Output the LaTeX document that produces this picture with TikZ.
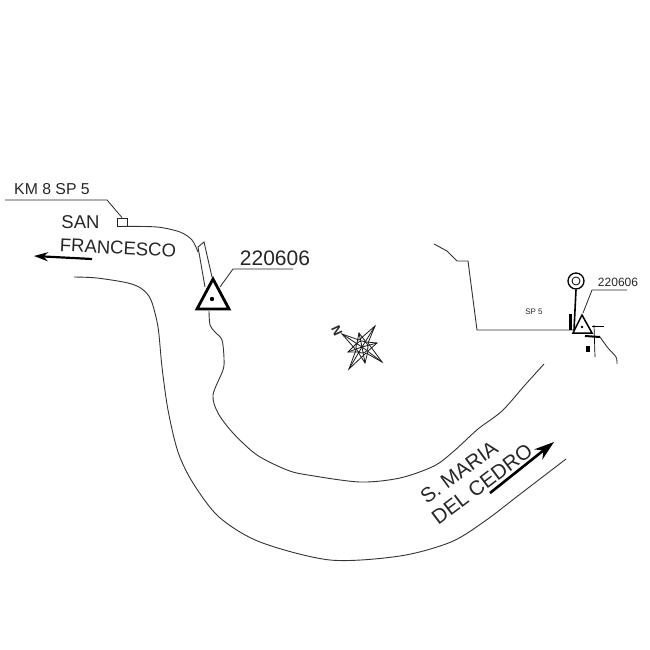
\documentclass[tikz,border=0pt]{standalone}
\usepackage{fontspec}
\setmainfont{Liberation Sans}
\usetikzlibrary{arrows.meta}
\tikzset{
  road/.style = {draw=black!80, line width=0.9pt},
  leader/.style = {draw=black!85, line width=0.8pt},
  caption/.style = {inner sep=0pt, text=black!85, font=\fontsize{#1}{#1}\selectfont},
  pointer/.style = {draw=black, line width=2.2pt},
  sign/.style = {draw=black, line width=2.8pt, line join=miter},
  rose/.style = {draw=black!90, line width=0.8pt}
}
\begin{document}
\begin{tikzpicture}[x=1pt,y=-1pt]
        \useasboundingbox (0,0) rectangle (650,650);

        % left of the picture
        \node[caption=15.8] (km) at (52,189) {KM 8 SP 5};
        \node[caption=18.5] (san) at (80.5,222) {SAN};
        \node[caption=18.5, rotate=-3] (francesco) at (118,248) {FRANCESCO};
        \node[caption=21] (code) at (275,258) {220606};
        \node[draw=black!85, line width=0.8pt, minimum width=10pt, minimum height=8pt, inner sep=0pt] (box) at (122,222) {};
        \node[caption=20.5, rotate=36] (maria) at (459,472) {S. MARIA};
        \node[caption=20.5, rotate=37] (cedro) at (482,484) {DEL CEDRO};

        \coordinate (kmstart) at (5,200);
        \coordinate (kmbend) at (107,200);
        \draw[leader] (kmstart) -- (kmbend) -- (box.north);

        \coordinate (trileft) at (197,309);
        \coordinate (triright) at (229,309);
        \coordinate (tritop) at (213,279);
        \draw[sign] (trileft) -- (tritop) -- (triright) -- cycle;
        \fill (212,299) circle (2.2pt);

        \coordinate (codebend) at (233,269);
        \coordinate (codeend) at (293,269);
        \draw[leader] (220,287) -- (codebend) -- (codeend);

        \draw[road] plot[smooth] coordinates {(box.south) (157,227) (180,232) (192,240) (198,252)};
        \draw[road] (205,287) -- (198,247) -- (204,242) -- (212,277);
        \draw[road] plot[smooth, tension=0.5] coordinates {(209,311) (210,325) (215,332) (222,340) (224,358) (223,370) (213,395) (218,413) (233,433) (257,455) (287,470) (308,475) (360,482) (400,478) (434,466) (454,451) (478,429) (502,411) (525,385) (544,364)};
        \draw[road] plot[smooth, tension=0.5] coordinates {(74,277) (97,278) (128,283) (142,289) (151,300) (158,327) (162,367) (168,410) (178,452) (193,483) (219,517) (260,542) (330,560) (400,556) (451,542) (485,521) (519,495) (566,459)};

        \coordinate (leftstart) at (92,259);
        \coordinate (lefttip) at (34,256);
        \draw[pointer, -{Stealth[length=14pt,width=9pt]}] (leftstart) -- (lefttip);
        \coordinate (cedrostart) at (490,493);
        \coordinate (cedrotip) at (554,442);
        \draw[pointer, line width=2.6pt, -{Stealth[length=20pt,width=13pt]}] (cedrostart) -- (cedrotip);

        % compass
        \coordinate (centre) at (362,347);
        \foreach \px/\py in {342/334,375/326,382/362,349/369,359/333,377/343,365/363,348/352}
            \draw[rose] (\px,\py) -- (centre);
        \draw[rose] (342,334) -- (359,340) -- (375,326) -- (368,343) -- (382,362) -- (366,353) -- (349,369) -- (356,350) -- cycle;
        \draw[rose] (359,333) -- (366,342) -- (377,343) -- (368,351) -- (365,363) -- (358,352) -- (348,352) -- (357,343) -- cycle;
        \draw[rose] (centre) circle (6pt);
        \node[caption=13, font=\bfseries\fontsize{13}{13}\selectfont, rotate=-65] (north) at (337,331) {N};

        % right of the picture
        \node[caption=12] (smallcode) at (618,282) {220606};
        \node[caption=8] (sp) at (534,312) {SP 5};
        \node[draw=black, circle, line width=1.3pt, minimum size=16pt, inner sep=0pt] (disc) at (576,281) {};
        \node[draw=black, circle, line width=0.8pt, minimum size=8pt, inner sep=0pt] at (576,281) {};

        \draw[line width=1.6pt] (disc.south) -- (574,330);
        \draw[road] (434,244) -- (447,251) -- (457,261) -- (468,261) -- (477,330) -- (574,330);
        \fill (569,314) rectangle (572,330);
        \draw[line width=1.5pt] (573,333) -- (582,315) -- (592,333) -- cycle;
        \fill (582,327) circle (1.3pt);
        \draw[leader] (583,313) -- (592,290) -- (627,290);
        \draw[line width=0.7pt] (594,325) -- (595,357);
        \draw[line width=0.7pt] (592,326) -- (604,326);
        \draw[line width=2pt] (585,336) -- (600,337);
        \fill (586,346) rectangle (590,352);
        \draw[road] plot[smooth] coordinates {(600,337) (608,348) (616,357) (617,364)};
\end{tikzpicture}
\end{document}
